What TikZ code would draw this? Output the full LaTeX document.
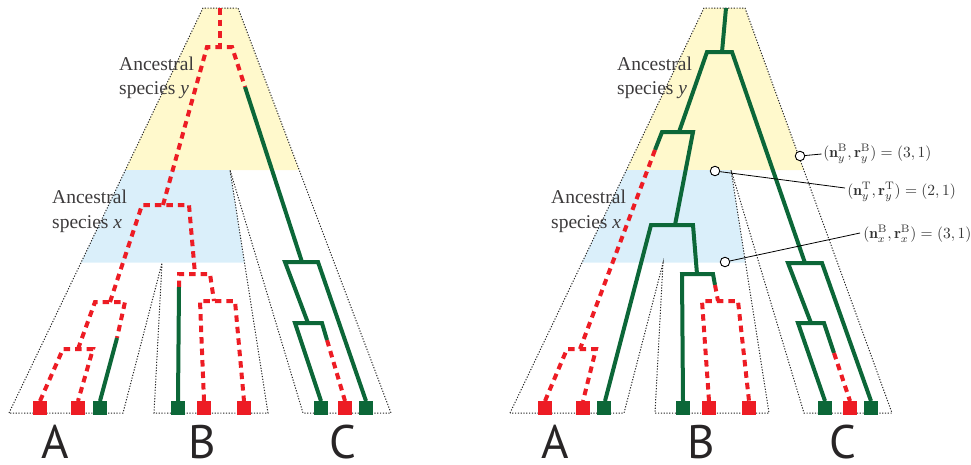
\documentclass[tikz,border=0pt]{standalone}
\usepackage{fontspec}
\newfontfamily\serifx{Liberation Serif}
\newfontfamily\sansx{PT Sans}
\definecolor{gred}{RGB}{237,28,36}
\definecolor{ggreen}{RGB}{12,103,56}
\definecolor{ylw}{RGB}{255,249,204}
\definecolor{blu}{RGB}{218,239,250}
\definecolor{txt}{RGB}{40,37,38}
\tikzset{
  redl/.style={draw=gred, line width=4pt, dash pattern=on 6.5pt off 5pt},
  grnl/.style={draw=ggreen, line width=4pt, line join=miter},
  outl/.style={draw=black!85, line width=1pt, dash pattern=on 1.2pt off 1.6pt},
  leaf/.style={minimum size=14pt, inner sep=0pt, outer sep=0pt},
  rleaf/.style={leaf, fill=gred},
  gleaf/.style={leaf, fill=ggreen},
  anc/.style={font=\serifx\fontsize{19.5}{23}\selectfont, text=txt!90, inner sep=0pt, anchor=base west},
  letter/.style={font=\sansx\fontsize{47}{50}\selectfont, text=txt, inner sep=0pt, anchor=base},
  ring/.style={circle, draw=black, fill=white, line width=0.9pt, minimum size=9.5pt, inner sep=0pt},
  lead/.style={draw=black, line width=0.8pt},
  mlab/.style={scale=1.55, text=black!80, inner sep=0pt, anchor=west}
}
\begin{document}
\begin{tikzpicture}[x=1pt, y=-1pt]
\useasboundingbox (0,0) rectangle (971,464);
% ---------- fills ----------
\fill[ylw] (203,8) -- (238,8) -- (299.2,170) -- (125.4,170) -- cycle;
\fill[blu] (125.4,170) -- (230,170) -- (244.5,262.5) -- (81.1,262.5) -- cycle;
\fill[ylw] (704,8) -- (745,8) -- (803.8,170) -- (626.4,170) -- cycle;
\fill[blu] (626.4,170) -- (731,170) -- (745.5,262.5) -- (582.1,262.5) -- cycle;
% ---------- species tree outlines ----------
\draw[outl] (9,413) -- (203,8) -- (238,8) -- (391,413) -- (303,413) -- (230,170)
  -- (268,413) -- (154,413) -- (162,263) -- (123,413) -- cycle;
\draw[outl] (510,413) -- (704,8) -- (745,8) -- (892,413) -- (804,413) -- (731,170)
  -- (769,413) -- (655,413) -- (663,263) -- (624,413) -- cycle;
% ---------- left gene tree ----------
\draw[redl] (220,8) -- (220,47);
\draw[redl] (163,205) -- (207,47) -- (232,47) -- (245,87);
\draw[redl] (110,302) -- (142,205) -- (189,205) -- (195,274);
\draw[redl] (78,349) -- (95,302) -- (125,302) -- (117,338);
\draw[redl] (40,401) -- (63,349) -- (93,349) -- (78,401);
\draw[redl] (179,287) -- (179,274) -- (210,274) -- (214,301);
\draw[redl] (204,401) -- (200,301) -- (235,301) -- (244,401);
\draw[redl] (327,340) -- (345,401);
\draw[grnl] (117,338) -- (100,401);
\draw[grnl] (179,287) -- (178,401);
\draw[grnl] (245,87) -- (302,262);
\draw[grnl] (308,323) -- (285,262) -- (318,262) -- (366,401);
\draw[grnl] (321,401) -- (295,323) -- (322,323) -- (327,340);
% ---------- right gene tree ----------
\draw[grnl] (726,8) -- (722,52);
\draw[grnl] (679,132) -- (707,52) -- (732,52) -- (805,263);
\draw[grnl] (655,150) -- (662,132) -- (693,132) -- (675,225);
\draw[grnl] (605,401) -- (651,225) -- (693,225) -- (697,274);
\draw[grnl] (683,401) -- (682,274) -- (713,274) -- (715,285);
\draw[grnl] (811,323) -- (788,263) -- (822,263) -- (871,401);
\draw[grnl] (825,401) -- (798,323) -- (824,323) -- (834,353);
\draw[redl] (655,150) -- (580,349);
\draw[redl] (545,401) -- (567,349) -- (596,349) -- (583,401);
\draw[redl] (715,285) -- (718,301);
\draw[redl] (709,401) -- (702,301) -- (738,301) -- (749,401);
\draw[redl] (834,353) -- (850,401);
% ---------- leaves ----------
\node[rleaf] (la1) at (40,408) {};
\node[rleaf] (la2) at (78,408) {};
\node[gleaf] (la3) at (100,408) {};
\node[gleaf] (lb1) at (178,408) {};
\node[rleaf] (lb2) at (204,408) {};
\node[rleaf] (lb3) at (244,408) {};
\node[gleaf] (lc1) at (321,408) {};
\node[rleaf] (lc2) at (345,408) {};
\node[gleaf] (lc3) at (366,408) {};
\node[rleaf] (ra1) at (545,408) {};
\node[rleaf] (ra2) at (583,408) {};
\node[gleaf] (ra3) at (604,408) {};
\node[gleaf] (rb1) at (683,408) {};
\node[rleaf] (rb2) at (709,408) {};
\node[rleaf] (rb3) at (749,408) {};
\node[gleaf] (rc1) at (825,408) {};
\node[rleaf] (rc2) at (850,408) {};
\node[gleaf] (rc3) at (871,408) {};
% ---------- texts ----------
\node[anc] (ly1) at (119,70) {Ancestral};
\node[anc] (ly2) at (119,94) {species \textit{y}};
\node[anc] (lx1) at (52,203) {Ancestral};
\node[anc] (lx2) at (52,228) {species \textit{x}};
\node[anc] (ry1) at (617,70) {Ancestral};
\node[anc] (ry2) at (617,94) {species \textit{y}};
\node[anc] (rx1) at (551,203) {Ancestral};
\node[anc] (rx2) at (551,228) {species \textit{x}};
\node[letter] (lA) at (55,458) {A};
\node[letter] (lB) at (202,458) {B};
\node[letter] (lC) at (343,458) {C};
\node[letter] (rA) at (555,458) {A};
\node[letter] (rB) at (701,458) {B};
\node[letter] (rC) at (843,458) {C};
% ---------- annotations ----------
\node[mlab] (m1) at (823,154) {$(\mathbf{n}_y^{\mathrm{B}},\mathbf{r}_y^{\mathrm{B}})=(3,1)$};
\node[mlab] (m2) at (847,192) {$(\mathbf{n}_y^{\mathrm{T}},\mathbf{r}_y^{\mathrm{T}})=(2,1)$};
\node[mlab] (m3) at (863,234) {$(\mathbf{n}_x^{\mathrm{B}},\mathbf{r}_x^{\mathrm{B}})=(3,1)$};
\node[ring] (c1) at (800,156) {};
\node[ring] (c2) at (715,171) {};
\node[ring] (c3) at (725,262) {};
\draw[lead] (c1) -- ([xshift=-1.5pt]m1.west);
\draw[lead] (c2) -- ([xshift=-2pt,yshift=4pt]m2.west);
\draw[lead] (c3) -- ([xshift=-3pt,yshift=1pt]m3.west);
\end{tikzpicture}
\end{document}
